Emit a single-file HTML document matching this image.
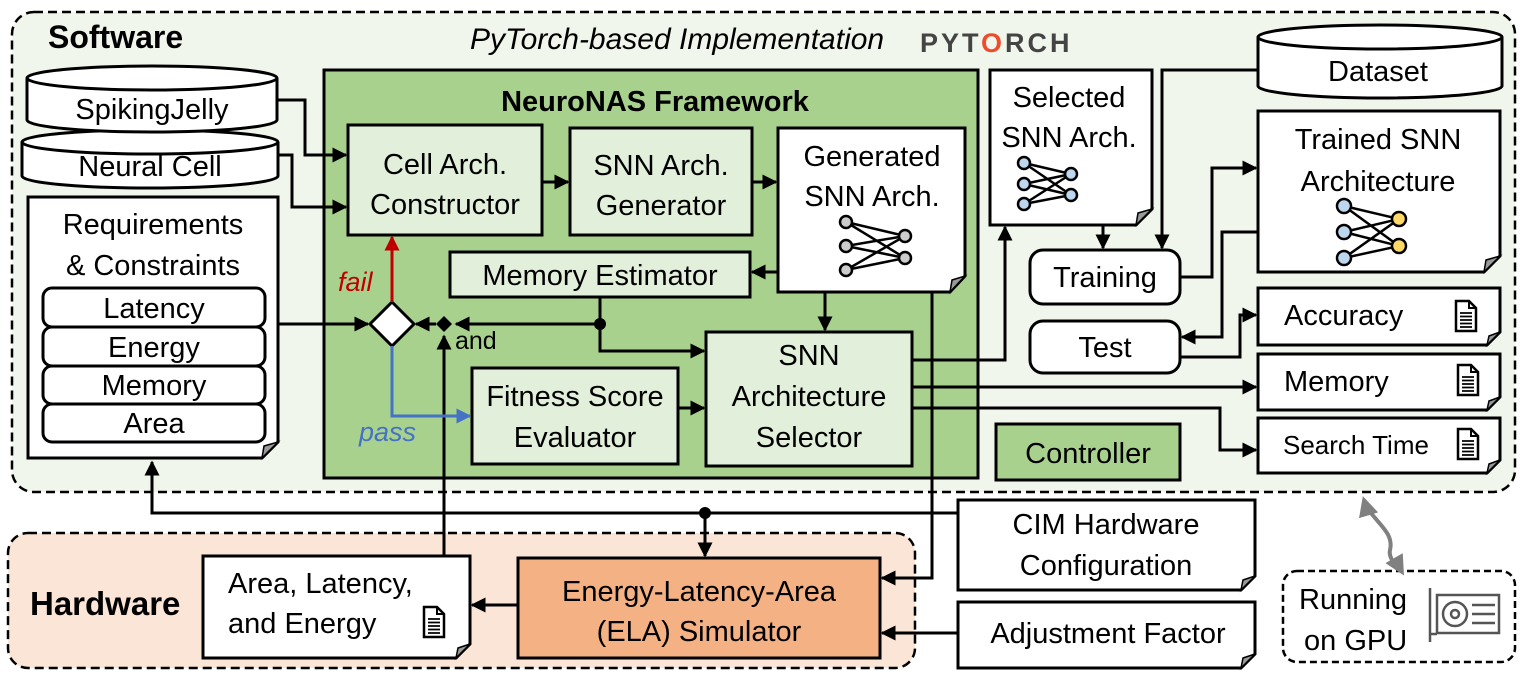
<!DOCTYPE html>
<html><head><meta charset="utf-8"><style>
html,body{margin:0;padding:0;background:#fff;}
svg{display:block;}
text{font-family:"Liberation Sans",sans-serif;font-size:29px;fill:#000;}
.b{font-weight:bold;}
</style></head><body>
<svg width="1527" height="677" viewBox="0 0 1527 677" xmlns="http://www.w3.org/2000/svg">
<defs>
<marker id="a" viewBox="0 0 10 10" refX="9" refY="5" markerWidth="5" markerHeight="5" orient="auto-start-reverse"><path d="M0,0 L10,5 L0,10 z" fill="#000"/></marker>
<marker id="ar" viewBox="0 0 10 10" refX="9" refY="5" markerWidth="5" markerHeight="5" orient="auto"><path d="M0,0 L10,5 L0,10 z" fill="#c00000"/></marker>
<marker id="ab" viewBox="0 0 10 10" refX="9" refY="5" markerWidth="5" markerHeight="5" orient="auto"><path d="M0,0 L10,5 L0,10 z" fill="#4472c4"/></marker>
<marker id="ag" viewBox="0 0 10 10" refX="8" refY="5" markerWidth="5" markerHeight="5" orient="auto-start-reverse"><path d="M0,0 L10,5 L0,10 z" fill="#808080"/></marker>
<g id="doci"><path d="M0,0 H13 L20,7 V30 H0 Z" fill="#fff" stroke="#000" stroke-width="2.5"/><path d="M13,0 V7 H20" fill="none" stroke="#000" stroke-width="2"/><path d="M4,12 H16 M4,15.5 H16 M4,19 H16 M4,22.5 H16 M4,26 H16" stroke="#000" stroke-width="1.8"/></g>
</defs>

<rect x="12" y="12" width="1503" height="480" rx="22" fill="#f0f6ec" stroke="#000" stroke-width="2.5" stroke-dasharray="9,5"/>
<text x="48" y="48" class="b" style="font-size:32px">Software</text>
<text x="470" y="49" style="font-style:italic;font-size:30px">PyTorch-based Implementation</text>
<text x="920" y="52" class="b" style="font-size:27px;fill:#444;letter-spacing:3px">PYT<tspan fill="#ee4c2c">O</tspan>RCH</text>

<rect x="8" y="533" width="907" height="135" rx="20" fill="#fbe5d6" stroke="#000" stroke-width="2.5" stroke-dasharray="9,5"/>
<text x="30" y="615" class="b" style="font-size:33px">Hardware</text>

<rect x="324" y="70" width="654" height="408" fill="#a9d18e" stroke="#000" stroke-width="3"/>
<text x="655" y="111" text-anchor="middle" class="b" style="font-size:29px">NeuroNAS Framework</text>

<g stroke="#000" stroke-width="3" fill="#e2efda">
<rect x="348" y="125" width="194" height="110"/>
<rect x="570" y="128" width="182" height="107"/>
<rect x="450" y="252" width="300" height="45"/>
<rect x="472" y="368" width="206" height="96"/>
<rect x="706" y="332" width="206" height="134"/>
<rect x="996" y="424" width="184" height="56" fill="#a9d18e"/>
<rect x="518" y="558" width="362" height="100" fill="#f4b183"/>
</g>
<text x="445" y="174" text-anchor="middle">Cell Arch.</text>
<text x="445" y="214" text-anchor="middle">Constructor</text>
<text x="661" y="175" text-anchor="middle">SNN Arch.</text>
<text x="661" y="215" text-anchor="middle">Generator</text>
<text x="600" y="285" text-anchor="middle">Memory Estimator</text>
<text x="575" y="406" text-anchor="middle">Fitness Score</text>
<text x="575" y="447" text-anchor="middle">Evaluator</text>
<text x="809" y="365" text-anchor="middle">SNN</text>
<text x="809" y="406" text-anchor="middle">Architecture</text>
<text x="809" y="447" text-anchor="middle">Selector</text>
<text x="1088" y="463" text-anchor="middle">Controller</text>
<text x="699" y="601" text-anchor="middle">Energy-Latency-Area</text>
<text x="699" y="641" text-anchor="middle">(ELA) Simulator</text>

<g stroke="#000" stroke-width="3" fill="#fff">
<path d="M778,128 H965 V276 L950,292 H778 Z"/>
<path d="M28,197 H278 V442 L262,458 H28 Z"/>
<path d="M990,70 H1152 V209 L1136,225 H990 Z"/>
<path d="M1258,111 H1500 V256 L1484,272 H1258 Z"/>
<path d="M1258,288 H1500 V332 L1487,345 H1258 Z"/>
<path d="M1258,354 H1500 V397 L1487,410 H1258 Z"/>
<path d="M1258,418 H1500 V460 L1487,473 H1258 Z"/>
<path d="M958,500 H1255 V576 L1241,590 H958 Z"/>
<path d="M958,602 H1255 V654 L1241,668 H958 Z"/>
<path d="M203,556 H470 V644 L456,658 H203 Z"/>
</g>
<g fill="#999" stroke="#000" stroke-width="1.5">
<path d="M965,276 L950,292 L952,280 Z"/><path d="M278,442 L262,458 L264,446 Z"/>
<path d="M1152,209 L1136,225 L1138,213 Z"/><path d="M1500,256 L1484,272 L1486,260 Z"/>
<path d="M1500,332 L1487,345 L1489,336 Z"/><path d="M1500,397 L1487,410 L1489,401 Z"/>
<path d="M1500,460 L1487,473 L1489,464 Z"/><path d="M1255,576 L1241,590 L1243,580 Z"/>
<path d="M1255,654 L1241,668 L1243,658 Z"/><path d="M470,644 L456,658 L458,648 Z"/>
</g>
<text x="872" y="166" text-anchor="middle">Generated</text>
<text x="872" y="206" text-anchor="middle">SNN Arch.</text>
<g stroke="#000" stroke-width="2.5"><path d="M846,222 L905,236 M846,222 L905,258 M846,246 L905,236 M846,246 L905,258 M846,270 L905,236 M846,270 L905,258"/></g>
<g fill="#ccc" stroke="#000" stroke-width="2.5"><circle cx="846" cy="222" r="6"/><circle cx="846" cy="246" r="6"/><circle cx="846" cy="270" r="6"/><circle cx="905" cy="236" r="6"/><circle cx="905" cy="258" r="6"/></g>

<text x="1069" y="107" text-anchor="middle">Selected</text>
<text x="1069" y="147" text-anchor="middle">SNN Arch.</text>
<g stroke="#000" stroke-width="2.5"><path d="M1024,163 L1071,174 M1024,163 L1071,195 M1024,184 L1071,174 M1024,184 L1071,195 M1024,204 L1071,174 M1024,204 L1071,195"/></g>
<g fill="#bdd7ee" stroke="#000" stroke-width="2.5"><circle cx="1024" cy="163" r="6"/><circle cx="1024" cy="184" r="6"/><circle cx="1024" cy="204" r="6"/><circle cx="1071" cy="174" r="6"/><circle cx="1071" cy="195" r="6"/></g>

<text x="1378" y="149" text-anchor="middle">Trained SNN</text>
<text x="1378" y="191" text-anchor="middle">Architecture</text>
<g stroke="#000" stroke-width="2.5"><path d="M1277,206 L1332,219 M1277,206 L1332,246 M1277,232 L1332,219 M1277,232 L1332,246 M1277,258 L1332,219 M1277,258 L1332,246" transform="translate(67,0)"/></g>
<g fill="#bdd7ee" stroke="#000" stroke-width="2.5"><circle cx="1344" cy="206" r="7"/><circle cx="1344" cy="232" r="7"/><circle cx="1344" cy="258" r="7"/></g>
<g fill="#ffd966" stroke="#000" stroke-width="2.5"><circle cx="1399" cy="219" r="7"/><circle cx="1399" cy="246" r="7"/></g>

<text x="153" y="234" text-anchor="middle">Requirements</text>
<text x="153" y="275" text-anchor="middle">&amp; Constraints</text>
<g stroke="#000" stroke-width="3" fill="#fff">
<rect x="43" y="288" width="222" height="39" rx="9"/>
<rect x="43" y="327" width="222" height="39" rx="9"/>
<rect x="43" y="366" width="222" height="38" rx="9"/>
<rect x="43" y="404" width="222" height="38" rx="9"/>
</g>
<text x="154" y="318" text-anchor="middle">Latency</text>
<text x="154" y="357" text-anchor="middle">Energy</text>
<text x="154" y="395" text-anchor="middle">Memory</text>
<text x="154" y="433" text-anchor="middle">Area</text>

<text x="1284" y="325">Accuracy</text>
<text x="1284" y="391">Memory</text>
<text x="1283" y="454" style="font-size:26px">Search Time</text>
<use href="#doci" x="1456" y="301"/><use href="#doci" x="1458" y="365"/><use href="#doci" x="1458" y="429"/>
<text x="1106" y="534" text-anchor="middle">CIM Hardware</text>
<text x="1106" y="575" text-anchor="middle">Configuration</text>
<text x="1108" y="643" text-anchor="middle">Adjustment Factor</text>
<text x="228" y="593">Area, Latency,</text>
<text x="228" y="633">and Energy</text>
<use href="#doci" x="424" y="607"/>

<g stroke="#000" stroke-width="3" fill="#fff">
<path d="M22,142 V176 A128,12 0 0 0 278,176 V142"/>
<ellipse cx="150" cy="142" rx="128" ry="12"/>
<path d="M27,78 V120 A125,12 0 0 0 277,120 V78"/>
<ellipse cx="152" cy="78" rx="125" ry="12"/>
<path d="M1258,37 V86 A122,12 0 0 0 1502,86 V37"/>
<ellipse cx="1380" cy="37" rx="122" ry="12"/>
</g>
<text x="152" y="119" text-anchor="middle">SpikingJelly</text>
<text x="150" y="176" text-anchor="middle">Neural Cell</text>
<text x="1378" y="81" text-anchor="middle">Dataset</text>

<g stroke="#000" stroke-width="3" fill="#fff">
<rect x="1030" y="250" width="150" height="54" rx="13"/>
<rect x="1030" y="321" width="150" height="52" rx="13"/>
</g>
<text x="1105" y="287" text-anchor="middle">Training</text>
<text x="1105" y="357" text-anchor="middle">Test</text>

<rect x="1283" y="571" width="232" height="91" rx="14" fill="#fff" stroke="#000" stroke-width="2.5" stroke-dasharray="7,4"/>
<text x="1299" y="609">Running</text>
<text x="1304" y="650">on GPU</text>
<g stroke="#555" stroke-width="2.5" fill="none"><rect x="1437" y="595" width="62" height="38"/><circle cx="1455" cy="614" r="12"/><circle cx="1455" cy="614" r="4"/><path d="M1430,588 V642 M1430,634 H1437 M1472,605 H1495 M1472,614 H1495 M1472,623 H1495"/></g>

<path d="M1364,500 C1370,520 1395,530 1390,550 C1388,560 1398,565 1402,572" fill="none" stroke="#808080" stroke-width="4" marker-start="url(#ag)" marker-end="url(#ag)"/>

<g fill="none" stroke="#000" stroke-width="3">
<path d="M278,100 H305 V155 H346" marker-end="url(#a)"/>
<path d="M278,155 H292 V207 H346" marker-end="url(#a)"/>
<path d="M542,182 H568" marker-end="url(#a)"/>
<path d="M752,182 H776" marker-end="url(#a)"/>
<path d="M778,272 H752" marker-end="url(#a)"/>
<path d="M825,292 V330" marker-end="url(#a)"/>
<path d="M600,297 V351 H704" marker-end="url(#a)"/>
<path d="M600,324 H456" marker-end="url(#a)"/>
<path d="M436,324 H416" marker-end="url(#a)"/>
<path d="M278,324 H368" marker-end="url(#a)"/>
<path d="M678,408 H704" marker-end="url(#a)"/>
<path d="M444,556 V336" marker-end="url(#a)"/>
<path d="M958,513 H152 V462" marker-end="url(#a)"/>
<path d="M705,513 V556" marker-end="url(#a)"/>
<path d="M932,292 V578 H882" marker-end="url(#a)"/>
<path d="M958,633 H882" marker-end="url(#a)"/>
<path d="M518,605 H472" marker-end="url(#a)"/>
<path d="M912,360 H1005 V227" marker-end="url(#a)"/>
<path d="M912,387 H1256" marker-end="url(#a)"/>
<path d="M912,408 H1220 V450 H1256" marker-end="url(#a)"/>
<path d="M1258,70 H1162 V248" marker-end="url(#a)"/>
<path d="M1103,225 V248" marker-end="url(#a)"/>
<path d="M1180,277 H1212 V168 H1256" marker-end="url(#a)"/>
<path d="M1258,232 H1222 V337 H1182" marker-end="url(#a)"/>
<path d="M1180,357 H1240 V315 H1256" marker-end="url(#a)"/>
</g>
<circle cx="600" cy="324" r="6"/>
<circle cx="705" cy="513" r="6"/>
<path d="M444,316 L452,324 L444,332 L436,324 Z"/>
<path d="M392,302 L414,324 L392,346 L370,324 Z" fill="#fff" stroke="#000" stroke-width="3"/>
<path d="M392,302 V237" stroke="#c00000" stroke-width="3" marker-end="url(#ar)"/>
<path d="M392,346 V416 H470" fill="none" stroke="#4472c4" stroke-width="3" marker-end="url(#ab)"/>
<text x="338" y="291" style="font-style:italic;fill:#c00000;font-size:27px">fail</text>
<text x="359" y="441" style="font-style:italic;fill:#4472c4;font-size:27px">pass</text>
<text x="455" y="349" style="font-size:25px">and</text>
</svg>
</body></html>
